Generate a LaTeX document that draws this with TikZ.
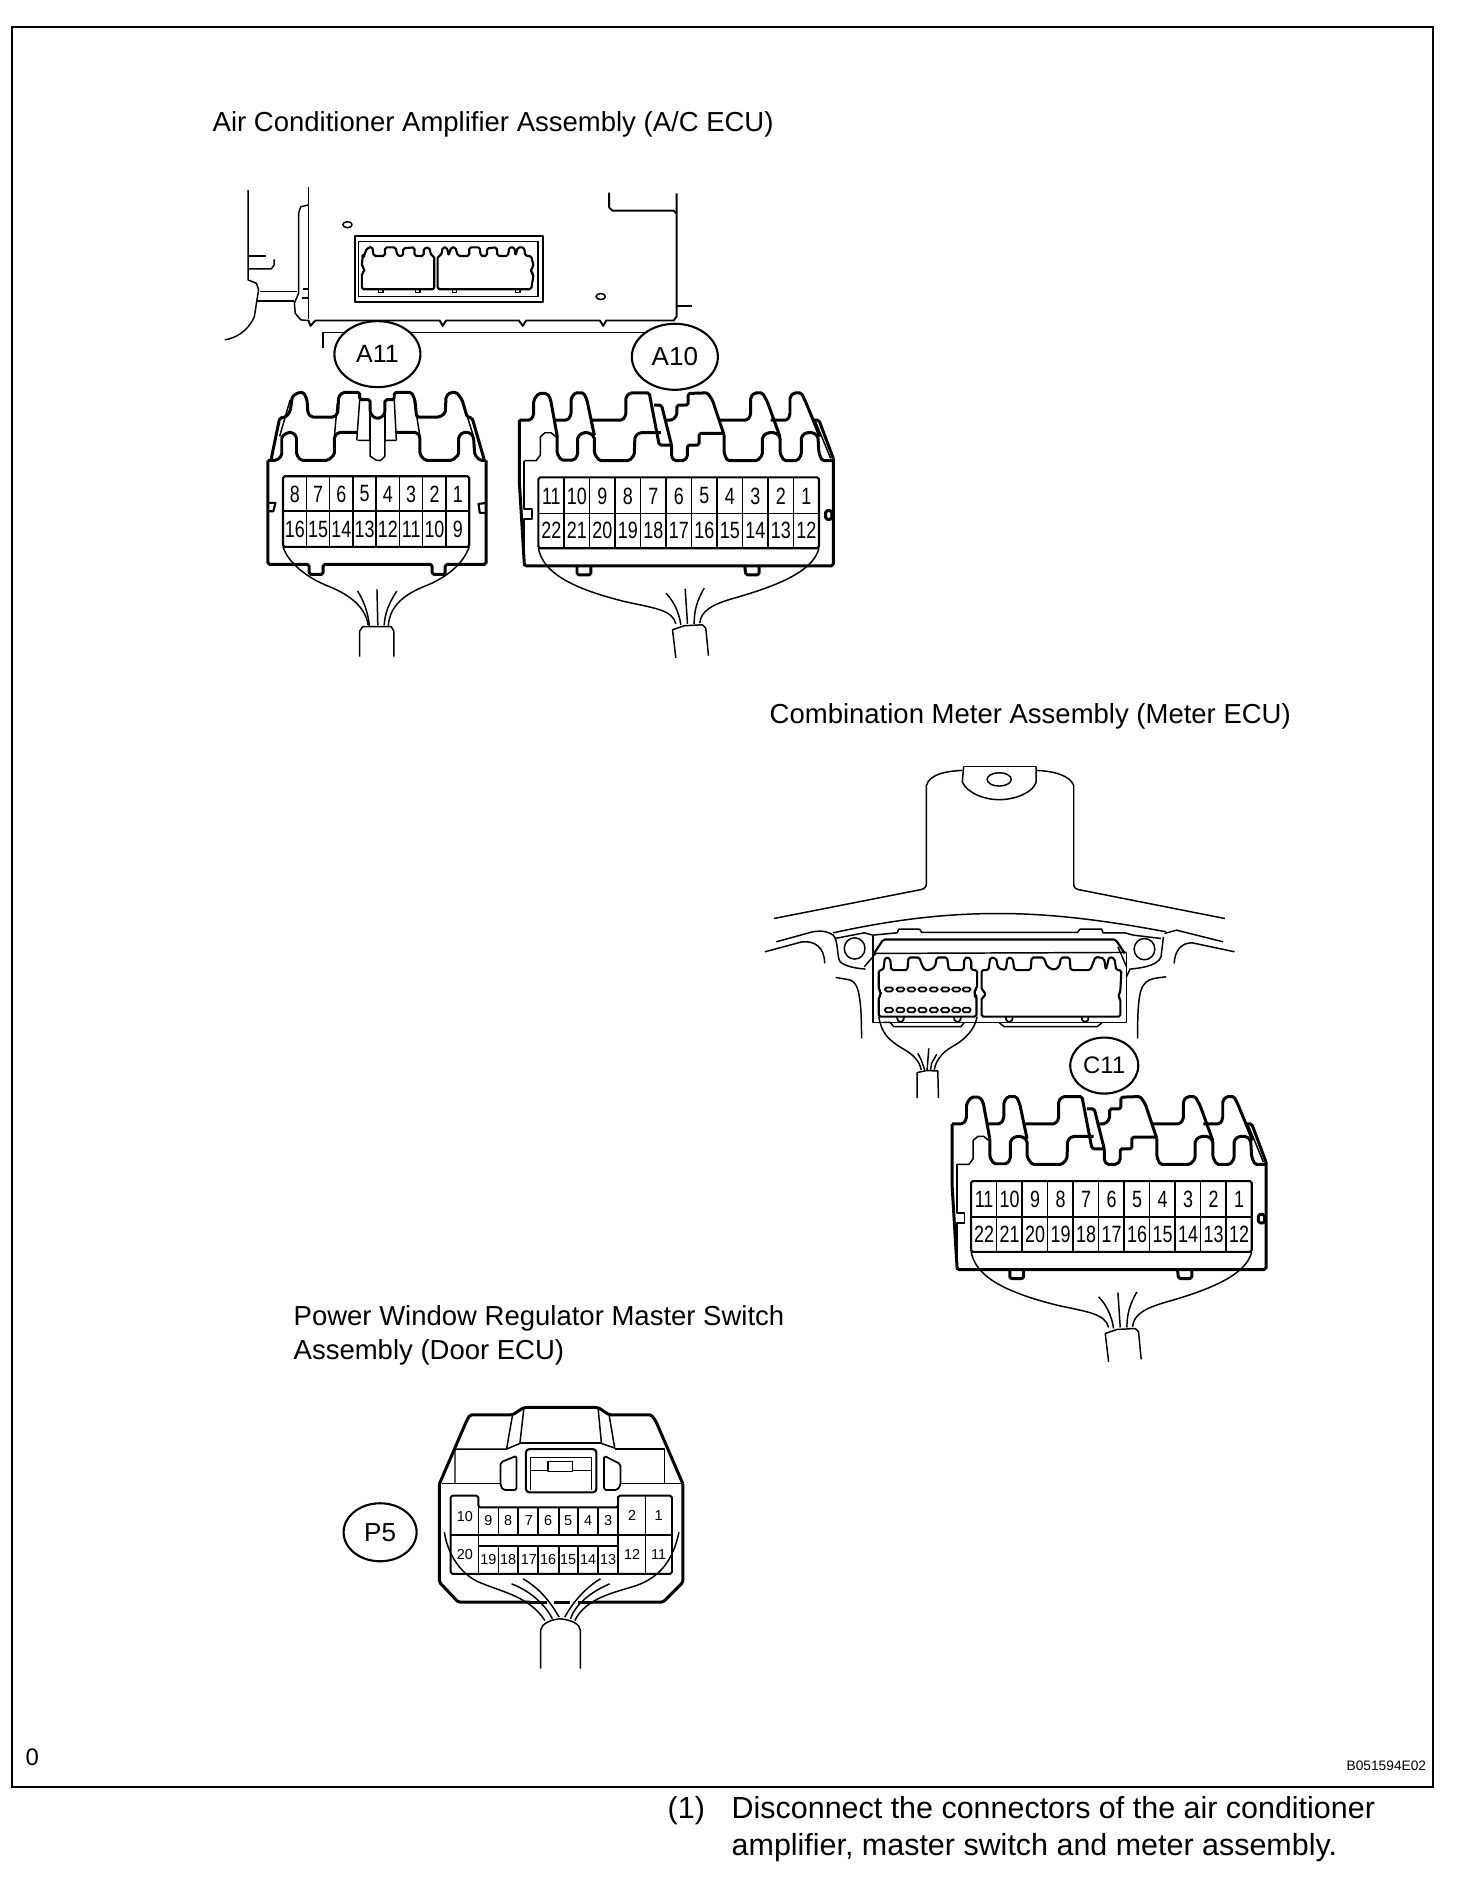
\documentclass[tikz,border=0pt]{standalone}
\usepackage{fontspec}
\setmainfont{Liberation Sans}
\newfontfamily\pinfont[FakeStretch=0.76]{Liberation Sans}
\usetikzlibrary{shapes.geometric}
\tikzset{
    thinline/.style={line width=0.42pt, line join=round},
    shell/.style={line width=0.85pt, line join=round, rounded corners=0.5pt},
    tag/.style={draw, ellipse, fill=white, line width=0.6pt, inner sep=0pt, minimum width=0.86cm, minimum height=0.66cm, font=\fontsize{7.1}{8}\selectfont},
    heading/.style={anchor=base west, inner sep=0pt, font=\fontsize{7.82}{9.7}\selectfont},
    steptext/.style={anchor=base west, inner sep=0pt, font=\fontsize{8.66}{10.7}\selectfont},
    pin/.style={inner sep=0pt, font=\pinfont\fontsize{6.7}{7}\selectfont},
    smallpin/.style={inner sep=0pt, font=\fontsize{4.1}{5}\selectfont},
}
% the 22 pin connector, used for A10 and C11
\newcommand{\housing}{
    \draw[shell] (65,250) -- (98,250) -- (108,235) -- (108,190) -- (122,170) -- (148,170) -- (158,185) -- (178,295);
    \draw[shell] (168,250) -- (210,250) -- (220,235) -- (220,185) -- (232,168) -- (258,168) -- (268,190) -- (290,295);
    \draw[shell] (280,250) -- (375,250) -- (385,235) -- (385,180) -- (398,168) -- (455,168) -- (485,325) -- (522,325);
    \draw[shell] (470,205) -- (492,205) -- (522,325) -- (522,360) -- (530,372) -- (560,372) -- (570,360) -- (570,325) -- (605,325) -- (605,290) -- (680,290);
    \draw[shell] (500,250) -- (525,250) -- (538,235) -- (538,205) -- (572,205) -- (572,170) -- (630,168) -- (645,190) -- (680,295);
    \draw[shell] (665,250) -- (750,250) -- (760,235) -- (760,180) -- (772,168) -- (795,168) -- (810,195) -- (848,300);
    \draw[shell] (820,250) -- (870,250) -- (878,235) -- (878,180) -- (890,168) -- (912,168) -- (925,195) -- (968,300);
    \draw[shell] (950,250) -- (965,250) -- (1008,365);
    \draw[thinline] (955,255) -- (1000,365);
    \draw[thinline] (80,372) -- (115,372) -- (128,355) -- (128,300) -- (142,288) -- (160,288) -- (175,300);
    \draw[shell] (178,295) -- (178,350) -- (190,370) -- (230,370) -- (240,355) -- (240,300) -- (255,288) -- (275,288) -- (290,300) -- (290,350) -- (305,372) -- (395,372) -- (410,355) -- (412,300) -- (425,288) -- (490,288);
    \draw[shell] (680,295) -- (680,350) -- (690,372) -- (780,372) -- (795,355) -- (795,300) -- (810,288) -- (835,288) -- (848,300) -- (848,350) -- (860,372) -- (900,372) -- (912,355) -- (912,300) -- (925,288) -- (950,288) -- (962,300) -- (965,350) -- (975,372) -- (1008,372);
    \draw[shell] (65,250) -- (65,440) -- (80,688) -- (1008,688) -- (1008,365);
    \draw[thinline, line width=0.55pt] (80,372) -- (80,518) -- (102,518) -- (102,548) -- (80,548) -- (80,688);
    \draw[shell] (985,522) rectangle (1004,548);
    \draw[shell] (238,688) -- (238,715) -- (280,715) -- (280,688);
    \draw[shell] (742,688) -- (745,715) -- (785,715) -- (785,688);
    \draw[shell, line width=0.6pt] (122,422) rectangle (965,635);
    \draw[thinline] (122,530) -- (965,530);
    \foreach \i in {1,...,10}
        \draw[thinline] ({122+76.6*\i},422) -- ({122+76.6*\i},635);
    \foreach \i in {0,...,10} {
        \pgfmathtruncatemacro{\up}{11-\i}
        \pgfmathtruncatemacro{\low}{22-\i}
        \node[pin] (pin\up) at ({161+76.6*\i},478) {\up};
        \node[pin] (pin\low) at ({161+76.6*\i},582) {\low};
    }
    % cable
    \draw[thinline] (122,635) .. controls (135,700) and (200,750) .. (380,795) .. controls (470,815) and (525,820) .. (535,862);
    \draw[thinline] (965,635) .. controls (950,695) and (870,740) .. (710,785) .. controls (640,805) and (610,825) .. (607,860);
    \draw[thinline] (505,770) .. controls (530,795) and (545,830) .. (550,865);
    \draw[thinline] (563,757) -- (570,862);
    \draw[thinline] (620,755) .. controls (600,790) and (590,820) .. (590,862);
    \draw[thinline] (535,965) -- (525,880) -- (560,868) -- (615,865) -- (625,875) -- (633,958);
}
\begin{document}
\begin{tikzpicture}[x=0.01cm, y=-0.01cm]
    \useasboundingbox (0,0) rectangle (1456,1882);
    \draw[line width=0.78pt] (12,27) rectangle (1433,1787);

    \node[heading] (acTitle) at (212,132) {Air Conditioner Amplifier Assembly (A/C ECU)};
    \node[heading] (meterTitle) at (769,723) {Combination Meter Assembly (Meter ECU)};
    \node[heading] (doorTitle) at (293,1325) {Power Window Regulator Master Switch};
    \node[heading] (doorTitleb) at (293,1359) {Assembly (Door ECU)};
    \node[anchor=base west, inner sep=0pt, font=\fontsize{3.9}{5}\selectfont] (figCode) at (1346,1770) {B051594E02};
    \node[anchor=base west, inner sep=0pt, font=\fontsize{6.8}{8}\selectfont] (cornerMark) at (25,1765) {0};
    \node[steptext] (stepNo) at (667,1818) {(1)};
    \node[steptext] (stepText) at (731,1818) {Disconnect the connectors of the air conditioner};
    \node[steptext] (stepTextb) at (731,1855) {amplifier, master switch and meter assembly.};

    % A/C ECU
    \begin{scope}[xshift=2.1cm, yshift=-1.7cm, x=0.004205cm, y=-0.00333cm]
        \draw[thinline] (90,60) -- (90,330) -- (110,340) -- (115,360) -- (105,440) .. controls (90,485) and (60,505) .. (35,510);
        \draw[thinline] (90,258) -- (132,258);
        \draw[thinline] (90,297) -- (145,297) -- (152,285) -- (152,268);
        \draw[thinline] (118,365) -- (205,365);
        \draw[thinline] (112,393) -- (200,393);
        \draw[thinline] (233,52) -- (233,448);
        \draw[thinline] (233,105) -- (215,110) -- (210,130) -- (210,370) -- (200,400) -- (202,430) -- (215,450) -- (233,452);
        \draw[thinline] (220,357) -- (233,357);
        \draw[thinline] (218,385) -- (233,385);
        \draw[thinline, line width=0.55pt] (233,450) -- (238,468) -- (250,452) -- (545,452) -- (552,468) -- (560,452) -- (733,452) -- (742,468) -- (750,452) -- (925,452) -- (933,468) -- (940,452) -- (1100,452) -- (1107,440) -- (1107,70);
        \draw[thinline, line width=0.55pt] (947,68) -- (947,112) -- (955,122) -- (1100,122) -- (1107,130);
        \draw[thinline] (1107,408) -- (1143,408);
        \draw[thinline] (268,535) -- (268,488) -- (1030,488);
        \draw[thinline] (326,164) ellipse (11 and 9);
        \draw[thinline] (927,380) ellipse (11 and 9);
        \draw[thinline, line width=0.55pt] (343,199) rectangle (790,397);
        \draw[thinline] (352,215) rectangle (778,380);
        \draw[shell, line width=0.6pt] (365,258) -- (372,235) -- (385,230) -- (388,258) -- (415,258) -- (415,232) -- (440,232) -- (445,258) -- (458,258) -- (458,235) -- (485,232) -- (485,258) -- (507,258) -- (507,235) -- (520,232) -- (525,258) -- (532,258) -- (532,358) -- (360,358) -- (360,310) -- (366,305) -- (366,295) -- (360,290) -- (362,258) -- cycle;
        \draw[shell, line width=0.6pt] (540,358) -- (540,258) -- (548,258) -- (552,232) -- (562,232) -- (566,258) -- (572,232) -- (582,232) -- (588,258) -- (615,258) -- (615,232) -- (640,232) -- (642,258) -- (657,258) -- (657,235) -- (680,232) -- (682,258) -- (707,258) -- (710,232) -- (722,232) -- (725,258) -- (730,232) -- (745,232) -- (748,258) -- (762,258) -- (768,290) -- (762,295) -- (762,310) -- (768,312) -- (762,358) -- cycle;
        \foreach \nx in {400,488,575,725}
            \draw[thinline] (\nx,358) -- (\nx,368) -- (\nx+10,368) -- (\nx+10,358);

        % A11
        \draw[shell] (145,868) -- (165,745) -- (180,742) -- (190,725) -- (195,680) -- (210,668) -- (222,668) -- (230,690) -- (232,730) -- (240,742) -- (295,742) -- (303,730) -- (305,680) -- (315,668) -- (355,668) -- (355,690) -- (380,690) -- (380,730) -- (390,745) -- (405,745) -- (415,730) -- (415,690) -- (437,690) -- (437,668) -- (478,668) -- (486,690) -- (490,742) -- (545,742) -- (558,730) -- (560,680) -- (570,668) -- (585,668) -- (598,690) -- (610,742) -- (622,745) -- (650,868);
        \draw[shell] (137,872) -- (158,872) -- (170,858) -- (170,800) -- (185,788) -- (195,788) -- (205,800) -- (205,855) -- (215,872) -- (280,872) -- (295,855) -- (295,800) -- (305,788) -- (350,788);
        \draw[shell] (442,788) -- (490,788) -- (498,800) -- (498,855) -- (510,872) -- (575,872) -- (590,855) -- (590,800) -- (600,788) -- (615,788) -- (625,800) -- (628,855) -- (640,872) -- (655,872);
        \draw[thinline] (350,812) -- (380,812) -- (380,860) -- (395,872) -- (405,872) -- (415,860) -- (415,812) -- (442,812);
        \draw[thinline] (190,690) -- (165,800);
        \draw[thinline] (302,700) -- (295,800);
        \draw[thinline] (484,690) -- (498,800);
        \draw[thinline] (598,690) -- (625,800);
        \draw[thinline] (355,690) -- (348,812);
        \draw[thinline] (437,690) -- (442,812);
        \draw[thinline] (380,730) -- (380,812);
        \draw[thinline] (415,730) -- (415,812);
        \draw[shell] (137,872) -- (137,1185) -- (235,1185) -- (235,1215) -- (268,1215) -- (268,1185) -- (527,1185) -- (527,1215) -- (558,1215) -- (558,1185) -- (655,1185) -- (655,872);
        \draw[thinline, line width=0.6pt] (137,1000) -- (155,1000) -- (150,1025) -- (137,1025);
        \draw[thinline, line width=0.6pt] (655,1000) -- (637,1003) -- (640,1030) -- (655,1030);
        \draw[shell, line width=0.6pt] (173,920) rectangle (615,1132);
        \draw[thinline] (173,1024) -- (615,1024);
        \foreach \i in {1,...,7}
            \draw[thinline] ({173+55.25*\i},920) -- ({173+55.25*\i},1132);
        \foreach \i in {0,...,7} {
            \pgfmathtruncatemacro{\up}{8-\i}
            \pgfmathtruncatemacro{\low}{16-\i}
            \node[pin] (a11pin\up) at ({201+55.25*\i},973) {\up};
            \node[pin] (a11pin\low) at ({201+55.25*\i},1080) {\low};
        }
        \draw[thinline] (173,1132) .. controls (185,1180) and (230,1225) .. (280,1250) .. controls (340,1280) and (370,1320) .. (375,1368);
        \draw[thinline] (615,1132) .. controls (600,1185) and (560,1225) .. (510,1250) .. controls (450,1280) and (425,1320) .. (423,1370);
        \draw[thinline] (350,1265) .. controls (365,1295) and (375,1330) .. (378,1370);
        \draw[thinline] (396,1260) -- (398,1368);
        \draw[thinline] (443,1265) .. controls (425,1300) and (415,1330) .. (413,1368);
        \draw[thinline] (355,1462) -- (355,1385) -- (362,1372) -- (430,1372) -- (436,1385) -- (436,1462);
        \node[tag] (a11) at (397,553) {A11};
        \node[tag, font=\fontsize{7.4}{8}\selectfont] (a10) at (1103,561) {A10};
    \end{scope}

    % A10, same housing as C11
    \begin{scope}[xshift=4.975cm, yshift=-3.367cm, x=0.00333cm, y=-0.00333cm]
        \begin{scope}[name prefix=a10-]
            \housing
        \end{scope}
    \end{scope}

    % Meter ECU
    \begin{scope}[xshift=7.5cm, yshift=-7.5cm, x=0.003448cm, y=-0.00333cm]
        \draw[thinline] (618,48) -- (828,48);
        \draw[thinline] (618,48) -- (614,95) .. controls (630,130) and (680,148) .. (720,148) .. controls (770,148) and (820,125) .. (828,95) -- (828,48);
        \draw[thinline] (68,505) -- (495,418) .. controls (505,415) and (510,410) .. (510,400) -- (510,105) .. controls (520,70) and (570,62) .. (614,60);
        \draw[thinline] (1375,505) -- (950,418) .. controls (940,415) and (937,410) .. (937,400) -- (937,105) .. controls (925,75) and (880,62) .. (828,60);
        \draw[thinline] (721,87) ellipse (35 and 20);
        \draw[thinline] (240,548) .. controls (450,500) and (600,490) .. (720,490) .. controls (850,490) and (1000,505) .. (1205,545);
        \draw[thinline] (75,575) -- (180,545) .. controls (210,540) and (225,545) .. (240,555) .. controls (255,570) and (250,620) .. (260,635) .. controls (275,650) and (310,655) .. (333,657);
        \draw[thinline] (245,565) -- (330,548) -- (355,555) -- (425,548) -- (430,537) -- (490,537) -- (497,547) -- (948,547) -- (955,537) -- (1018,537) -- (1022,548) -- (1085,548) -- (1110,555) -- (1190,565);
        \draw[thinline] (42,605) -- (150,575) .. controls (185,572) and (215,590) .. (215,640);
        \draw[thinline] (247,682) -- (280,688) .. controls (310,690) and (322,720) .. (322,865);
        \draw[thinline] (302,595) ellipse (30 and 32);
        \draw[thinline] (1142,597) ellipse (30 and 32);
        \draw[thinline] (1197,560) -- (1190,620) .. controls (1180,650) and (1120,655) .. (1100,657) -- (1090,680);
        \draw[thinline] (1200,550) -- (1235,540) -- (1370,575);
        \draw[thinline] (1403,605) -- (1280,578) .. controls (1250,578) and (1230,600) .. (1228,640);
        \draw[thinline] (1205,680) -- (1170,685) .. controls (1130,695) and (1122,720) .. (1122,865);
        \draw[thinline] (355,558) -- (355,817) -- (1090,817) -- (1090,610);
        \draw[thinline] (355,610) -- (1090,607);
        \draw[shell, line width=0.6pt] (358,610) -- (385,568) -- (1058,568) -- (1085,610);
        \draw[thinline] (330,650) -- (365,608);
        \draw[thinline] (1090,650) -- (1065,590);
        \draw[shell, line width=0.6pt] (372,800) -- (655,800) -- (655,738) -- (650,738) -- (650,718) -- (657,715) -- (657,660) -- (640,660) -- (640,630) -- (630,620) -- (620,625) -- (618,660) -- (575,660) -- (570,622) -- (540,622) -- (535,650) -- (520,660) -- (505,660) -- (495,640) -- (490,622) -- (458,622) -- (455,660) -- (408,660) -- (405,625) -- (390,622) -- (385,660) -- (372,660) -- (372,720) -- (378,725) -- (378,735) -- (372,740) -- cycle;
        \draw[shell, line width=0.6pt] (670,800) -- (1072,800) -- (1072,745) -- (1065,740) -- (1072,725) -- (1075,660) -- (1060,660) -- (1055,625) -- (1040,620) -- (1030,660) -- (1025,625) -- (1000,620) -- (985,660) -- (928,660) -- (925,622) -- (900,622) -- (895,650) -- (880,660) -- (860,650) -- (850,622) -- (815,622) -- (812,660) -- (765,660) -- (760,625) -- (745,622) -- (740,660) -- (718,655) -- (712,625) -- (695,622) -- (690,660) -- (670,660) -- (670,720) -- (680,725) -- (680,740) -- (670,742) -- cycle;
        \foreach \px in {390,423,455,487,520,553,585,615} {
            \draw[shell, line width=0.5pt] (\px,712) rectangle (\px+23,724);
            \draw[shell, line width=0.5pt] (\px,773) rectangle (\px+23,787);
        }
        \foreach \nx in {425,590,740,960}
            \draw[shell, line width=0.5pt] (\nx,800) -- (\nx+2,815) -- (\nx+18,815) -- (\nx+20,800);
        \draw[thinline] (385,817) -- (405,817) -- (415,830) -- (610,830) -- (620,817);
        \draw[thinline] (720,817) -- (735,830) -- (1005,830) -- (1020,817);
        \draw[thinline] (372,800) .. controls (380,850) and (400,870) .. (440,895) .. controls (475,915) and (490,935) .. (495,960);
        \draw[thinline] (657,800) .. controls (650,840) and (620,870) .. (585,890) .. controls (550,910) and (535,940) .. (533,960);
        \draw[thinline] (485,910) -- (495,930) -- (505,960);
        \draw[thinline] (517,895) -- (512,960);
        \draw[thinline] (540,913) -- (525,940) -- (522,960);
        \draw[thinline] (483,1045) -- (483,968) -- (510,962) -- (543,963) -- (545,1045);
    \end{scope}

    % C11
    \begin{scope}[xshift=9.3cm, yshift=-10.4cm, x=0.00333cm, y=-0.00333cm]
        \begin{scope}[name prefix=c11-]
            \housing
        \end{scope}
        \node[tag, minimum width=0.68cm, minimum height=0.56cm, font=\fontsize{6.8}{8}\selectfont] (c11) at (522,75) {C11};
    \end{scope}

    % P5
    \begin{scope}[xshift=3.3cm, yshift=-14cm, x=0.00333cm, y=-0.00333cm]
        \draw[shell] (328,250) -- (410,60) -- (420,42) -- (548,42) -- (582,20) -- (805,20) -- (838,42) -- (965,42) -- (978,60) -- (1060,250) -- (1060,545) -- (1000,605) -- (790,605);
        \draw[shell] (328,250) -- (328,545) -- (385,605) -- (600,605);
        \draw[shell] (650,605) -- (600,605);
        \draw[shell] (672,605) -- (722,605);
        \draw[shell] (745,605) -- (790,605);
        \draw[thinline] (335,248) -- (510,248);
        \draw[thinline] (875,248) -- (1055,248);
        \draw[thinline] (375,248) -- (375,145) -- (530,145) -- (548,42);
        \draw[thinline] (530,145) -- (570,128) -- (582,22);
        \draw[shell, line width=0.6pt] (570,128) -- (815,128);
        \draw[thinline] (815,128) -- (855,142) -- (838,42);
        \draw[thinline] (805,22) -- (815,128);
        \draw[thinline] (855,145) -- (1005,145) -- (1005,248);
        \draw[shell, line width=0.6pt, rounded corners=1pt] (588,275) rectangle (800,145);
        \draw[thinline] (602,268) -- (602,170) -- (785,170) -- (785,268);
        \draw[thinline] (602,210) -- (655,210);
        \draw[thinline] (728,210) -- (785,210);
        \draw[thinline] (655,182) rectangle (728,213);
        \draw[shell, line width=0.5pt] (512,185) -- (560,165) -- (560,268) -- (520,268) -- (512,255) -- cycle;
        \draw[shell, line width=0.5pt] (823,165) -- (872,190) -- (872,255) -- (862,268) -- (823,268) -- cycle;
        \draw[shell, line width=0.55pt] (362,285) -- (445,285) -- (445,320) -- (865,320) -- (865,285) -- (1027,285) -- (1027,520) -- (362,520) -- cycle;
        \draw[thinline] (362,403) -- (445,403);
        \draw[thinline] (865,403) -- (1027,403);
        \draw[thinline] (445,403) -- (865,403);
        \draw[shell, line width=0.55pt] (445,435) -- (865,435);
        \draw[thinline] (445,285) -- (445,520);
        \draw[thinline] (865,285) -- (865,520);
        \draw[thinline] (947,285) -- (947,520);
        \foreach \vx in {505,565,625,688,745,805} {
            \draw[thinline] (\vx,320) -- (\vx,403);
            \draw[thinline] (\vx,435) -- (\vx,518);
        }
        \foreach \n/\nx/\ny in {10/405/348, 20/405/463, 2/907/345, 1/987/345, 12/907/462, 11/987/462}
            \node[smallpin] (p5pin\n) at (\nx,\ny) {\n};
        \foreach \n/\nb/\nx in {9/19/475, 8/18/535, 7/17/597, 6/16/655, 5/15/715, 4/14/775, 3/13/835} {
            \node[smallpin] (p5pin\n) at (\nx,360) {\n};
            \node[smallpin] (p5pin\nb) at (\nx,478) {\nb};
        }
        \draw[thinline] (343,395) .. controls (355,470) and (400,530) .. (460,550) .. controls (520,575) and (600,590) .. (645,660);
        \draw[thinline] (1048,395) .. controls (1030,480) and (990,530) .. (920,555) .. controls (860,575) and (770,590) .. (735,660);
        \draw[thinline] (545,550) .. controls (610,575) and (650,620) .. (668,655);
        \draw[thinline] (580,535) .. controls (640,570) and (670,620) .. (688,650);
        \draw[thinline] (840,550) .. controls (780,575) and (735,615) .. (722,655);
        \draw[thinline] (812,535) .. controls (760,565) and (720,620) .. (705,650);
        \draw[thinline] (632,805) -- (632,690) .. controls (635,670) and (660,658) .. (690,655) .. controls (725,658) and (750,670) .. (752,690) -- (752,805);
        \node[tag, minimum width=0.73cm, minimum height=0.58cm, font=\fontsize{7.4}{8}\selectfont] (p5) at (150,395) {P5};
    \end{scope}
\end{tikzpicture}
\end{document}
